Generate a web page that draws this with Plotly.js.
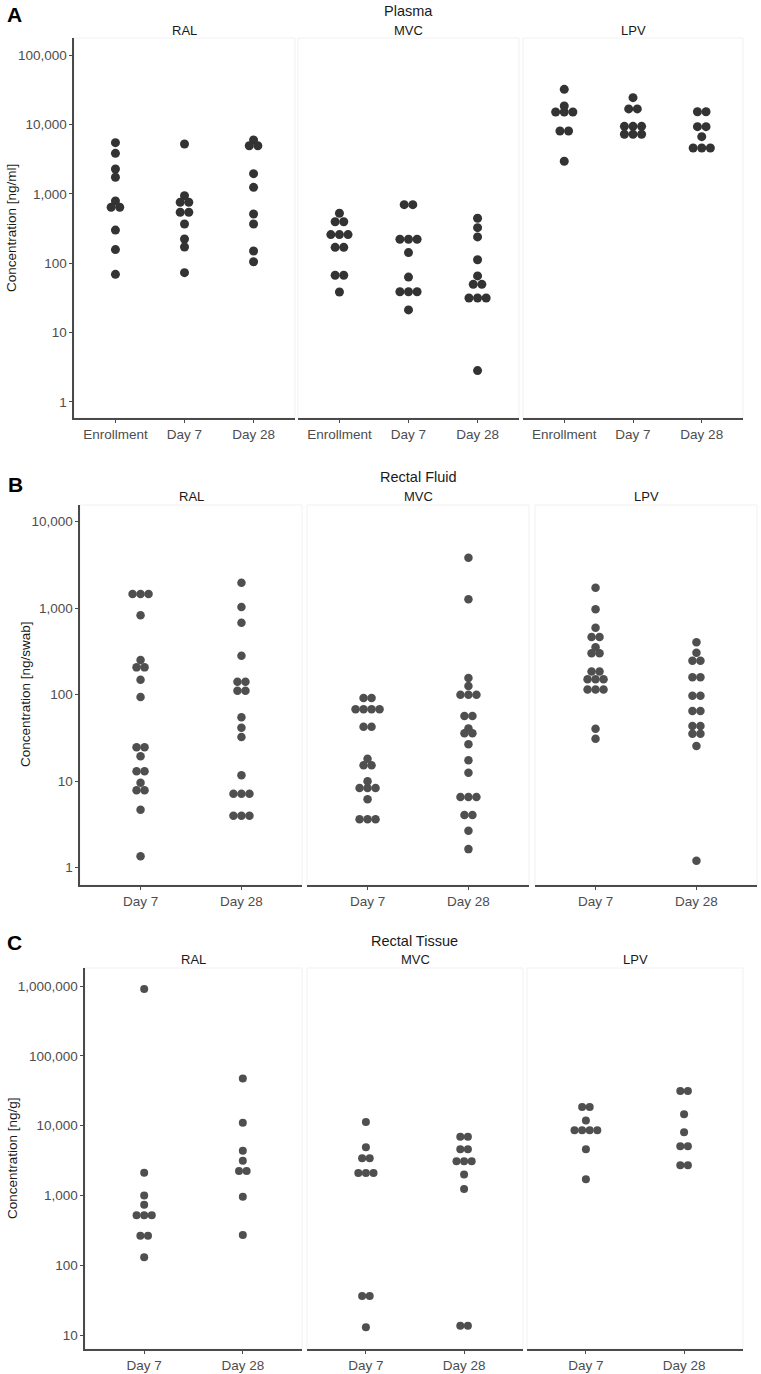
<!DOCTYPE html>
<html><head><meta charset="utf-8">
<script src="https://cdn.plot.ly/plotly-3.0.1.min.js"></script>
<style>body{margin:0;background:#fff}</style>
</head><body><div id="chart" style="width:761px;height:1374px"></div>
<script>
// ---------- categories / labels ----------
const drugs = ['RAL', 'MVC', 'LPV'];
const plasmaDays = ['Enrollment', 'Day 7', 'Day 28'];
const mucosalDays = ['Day 7', 'Day 28'];
const panelTitles = ['Plasma', 'Rectal Fluid', 'Rectal Tissue'];
const panelLetters = ['A', 'B', 'C'];
const yTitles = ['Concentration [ng/ml]', 'Concentration [ng/swab]', 'Concentration [ng/g]'];
const plasmaTickVals = [1, 10, 100, 1000, 10000, 100000];
const plasmaTickText = ['1', '10', '100', '1,000', '10,000', '100,000'];
const fluidTickVals = [1, 10, 100, 1000, 10000];
const fluidTickText = ['1', '10', '100', '1,000', '10,000'];
const tissueTickVals = [10, 100, 1000, 10000, 100000, 1000000];
const tissueTickText = ['10', '100', '1,000', '10,000', '100,000', '1,000,000'];

// ---------- Plasma (ng/ml) ----------
const plasma_RAL_Enrollment = [5450, 3830, 2275, 1730, 790, 640, 640, 300, 157, 69];
const plasma_RAL_Day7 = [5220, 940, 754, 754, 541, 541, 367, 223, 171, 73];
const plasma_RAL_Day28 = [5960, 4930, 4930, 1950, 1240, 512, 367, 150, 105];
const plasma_MVC_Enrollment = [524, 396, 396, 258, 258, 258, 169, 169, 67, 67, 38.5];
const plasma_MVC_Day7 = [697, 697, 221, 221, 221, 142, 63, 38.8, 38.8, 38.8, 21.2];
const plasma_MVC_Day28 = [444, 325, 239, 112, 65.5, 49.6, 49.6, 31.5, 31.5, 31.5, 2.83];
const plasma_LPV_Enrollment = [32000, 18400, 15100, 15100, 15100, 8040, 8040, 2940];
const plasma_LPV_Day7 = [24300, 16700, 16700, 9380, 9380, 9380, 7200, 7200, 7200];
const plasma_LPV_Day28 = [15200, 15200, 9270, 9270, 6650, 4570, 4570, 4570];

// ---------- Rectal fluid (ng/swab) ----------
const fluid_RAL_Day7 = [1460, 1460, 1460, 828, 252, 207, 207, 149, 94, 24.7, 24.7, 19.4, 13, 13, 9.6, 7.85, 7.85, 4.69, 1.36];
const fluid_RAL_Day28 = [1970, 1030, 680, 282, 141, 141, 111, 111, 54.8, 41.6, 32.4, 11.7, 7.17, 7.17, 7.17, 3.99, 3.99, 3.99];
const fluid_MVC_Day7 = [91.6, 91.6, 67.8, 67.8, 67.8, 67.8, 42.6, 42.6, 18.2, 15.3, 15.3, 9.98, 8.35, 8.35, 8.35, 6.18, 3.63, 3.63, 3.63];
const fluid_MVC_Day28 = [3840, 1270, 156, 126, 100, 100, 100, 56.7, 56.7, 40.8, 35.8, 35.8, 26.7, 17.5, 12.5, 6.56, 6.56, 6.56, 4.07, 4.07, 2.68, 1.64];
const fluid_LPV_Day7 = [1727, 971, 596, 464, 464, 353, 301, 301, 185, 185, 151, 151, 151, 115, 115, 115, 40.4, 31];
const fluid_LPV_Day28 = [404, 305, 247, 247, 159, 159, 97.5, 97.5, 64.7, 64.7, 43.4, 43.4, 35.4, 35.4, 25.5, 1.2];

// ---------- Rectal tissue (ng/g) ----------
const tissue_RAL_Day7 = [906000, 2120, 1000, 736, 518, 518, 518, 265, 265, 130];
const tissue_RAL_Day28 = [47500, 11000, 4370, 3150, 2240, 2240, 960, 271];
const tissue_MVC_Day7 = [11300, 4890, 3400, 3400, 2090, 2090, 2090, 36.2, 36.2, 12.9];
const tissue_MVC_Day28 = [6940, 6940, 4570, 4570, 3080, 3080, 3080, 2000, 1240, 13.6, 13.6];
const tissue_LPV_Day7 = [18500, 18500, 11800, 8560, 8560, 8560, 8560, 4570, 1700];
const tissue_LPV_Day28 = [31300, 31300, 14500, 8010, 5050, 5050, 2700, 2700];

// ---------- assemble (data -> facets) ----------
const panelData = [
  [[plasma_RAL_Enrollment, plasma_RAL_Day7, plasma_RAL_Day28],
   [plasma_MVC_Enrollment, plasma_MVC_Day7, plasma_MVC_Day28],
   [plasma_LPV_Enrollment, plasma_LPV_Day7, plasma_LPV_Day28]],
  [[fluid_RAL_Day7, fluid_RAL_Day28], [fluid_MVC_Day7, fluid_MVC_Day28], [fluid_LPV_Day7, fluid_LPV_Day28]],
  [[tissue_RAL_Day7, tissue_RAL_Day28], [tissue_MVC_Day7, tissue_MVC_Day28], [tissue_LPV_Day7, tissue_LPV_Day28]]
];
const panelCats = [plasmaDays, mucosalDays, mucosalDays];
const panelTicks = [[plasmaTickVals, plasmaTickText], [fluidTickVals, fluidTickText], [tissueTickVals, tissueTickText]];

// ---------- geometry (pixels) ----------
const W = 761, H = 1374;
const geo = [
  {xs: [[74, 295], [298, 519], [523, 743]], top: 38, bottom: 418, yr: [-0.231, 5.245],
   title: {x: 409, y: 11}, letter: {x: 5, y: 15}, facetY: 30, ytitle: {x: 12, y: 228}, dot: 9, spacing: 8.6, color: '#333333'},
  {xs: [[80, 302], [307, 529], [535, 757]], top: 505, bottom: 885, yr: [-0.2, 4.193],
   title: {x: 418.5, y: 476.5}, letter: {x: 6, y: 484}, facetY: 496, ytitle: {x: 25, y: 694}, dot: 8.5, spacing: 8.0, color: '#4f4f4f'},
  {xs: [[85, 302], [307, 523], [527, 743]], top: 968, bottom: 1349, yr: [0.8, 6.258],
   title: {x: 414.5, y: 941}, letter: {x: 5, y: 943}, facetY: 959, ytitle: {x: 12, y: 1158}, dot: 8, spacing: 7.6, color: '#4f4f4f'}
];
const fx = px => px / W;
const fy = py => 1 - py / H;
const FONT = 'Liberation Sans, Arial, Helvetica, sans-serif';

const traces = [];
const layout = {
  width: W, height: H, margin: {l: 0, r: 0, t: 0, b: 0},
  paper_bgcolor: '#ffffff', plot_bgcolor: '#ffffff',
  showlegend: false, font: {family: FONT, color: '#4d4d4d'},
  annotations: [], shapes: []
};

// dotplot stacking: equal values form one centred row
function stackOffsets(vals, spacingUnits) {
  const sorted = vals.slice().sort((a, b) => b - a);
  const xs = [], ys = [];
  let i = 0;
  while (i < sorted.length) {
    let j = i;
    while (j < sorted.length && sorted[j] === sorted[i]) j++;
    const n = j - i;
    for (let k = 0; k < n; k++) { xs.push((k - (n - 1) / 2) * spacingUnits); ys.push(sorted[i]); }
    i = j;
  }
  return {xs, ys};
}

let k = 0;
for (let p = 0; p < 3; p++) {
  const g = geo[p];
  const cats = panelCats[p];
  const nc = cats.length;
  const xr = [0.4, nc + 0.6];
  const catPos = cats.map((c, i) => i + 1);
  for (let f = 0; f < 3; f++) {
    k++;
    const xn = k === 1 ? 'xaxis' : 'xaxis' + k;
    const yn = k === 1 ? 'yaxis' : 'yaxis' + k;
    const xid = k === 1 ? 'x' : 'x' + k;
    const yid = k === 1 ? 'y' : 'y' + k;
    const [x0, x1] = g.xs[f];
    const pxPerUnit = (x1 - x0) / (xr[1] - xr[0]);
    const sp = g.spacing / pxPerUnit;
    layout[xn] = {
      domain: [fx(x0), fx(x1)], range: xr, anchor: yid, type: 'linear',
      tickmode: 'array', tickvals: catPos, ticktext: cats,
      showline: true, linecolor: '#4a4a4a', linewidth: 1.6,
      ticks: 'outside', ticklen: 3, tickcolor: '#4a4a4a', tickwidth: 1,
      showgrid: false, zeroline: false, fixedrange: true,
      tickfont: {family: FONT, size: 13.5, color: '#4d4d4d'}
    };
    const ya = {
      domain: [fy(g.bottom), fy(g.top)], range: g.yr, type: 'log', anchor: xid,
      showgrid: false, zeroline: false, fixedrange: true
    };
    if (f === 0) {
      Object.assign(ya, {
        tickmode: 'array', tickvals: panelTicks[p][0], ticktext: panelTicks[p][1],
        showline: true, linecolor: '#4a4a4a', linewidth: 1.6,
        ticks: 'outside', ticklen: 3, tickcolor: '#4a4a4a', tickwidth: 1,
        tickfont: {family: FONT, size: 13.5, color: '#4d4d4d'}
      });
    } else {
      Object.assign(ya, {showticklabels: false, showline: false, ticks: ''});
    }
    layout[yn] = ya;

    // light facet border
    layout.shapes.push({type: 'rect', xref: 'paper', yref: 'paper', layer: 'below',
      x0: fx(x0), x1: fx(x1), y0: fy(g.bottom), y1: fy(g.top),
      line: {color: '#f1f1f1', width: 1}, fillcolor: 'rgba(0,0,0,0)'});

    // facet strip label
    layout.annotations.push({text: drugs[f], xref: 'paper', yref: 'paper',
      x: fx((x0 + x1) / 2), y: fy(g.facetY), xanchor: 'center', yanchor: 'middle',
      showarrow: false, font: {family: FONT, size: 13, color: '#1a1a1a'}});

    // dots
    const groups = panelData[p][f];
    groups.forEach((vals, ci) => {
      const st = stackOffsets(vals, sp);
      traces.push({
        type: 'scatter', mode: 'markers', xaxis: xid, yaxis: yid,
        x: st.xs.map(o => catPos[ci] + o), y: st.ys,
        marker: {size: g.dot, color: g.color, line: {width: 0}},
        hoverinfo: 'y', cliponaxis: false
      });
    });
  }
  // panel title, letter, y title
  layout.annotations.push({text: panelTitles[p], xref: 'paper', yref: 'paper',
    x: fx(g.title.x), y: fy(g.title.y), xanchor: 'center', yanchor: 'middle',
    showarrow: false, font: {family: FONT, size: 14.5, color: '#1a1a1a'}});
  layout.annotations.push({text: '<b>' + panelLetters[p] + '</b>', xref: 'paper', yref: 'paper',
    x: fx(g.letter.x), y: fy(g.letter.y), xanchor: 'left', yanchor: 'middle',
    showarrow: false, font: {family: FONT, size: 21, color: '#000000'}});
  layout.annotations.push({text: yTitles[p], xref: 'paper', yref: 'paper', textangle: -90,
    x: fx(g.ytitle.x), y: fy(g.ytitle.y), xanchor: 'center', yanchor: 'middle',
    showarrow: false, font: {family: FONT, size: 13.5, color: '#1a1a1a'}});
}

Plotly.newPlot('chart', traces, layout, {displayModeBar: false, staticPlot: true});
</script>
</body></html>
